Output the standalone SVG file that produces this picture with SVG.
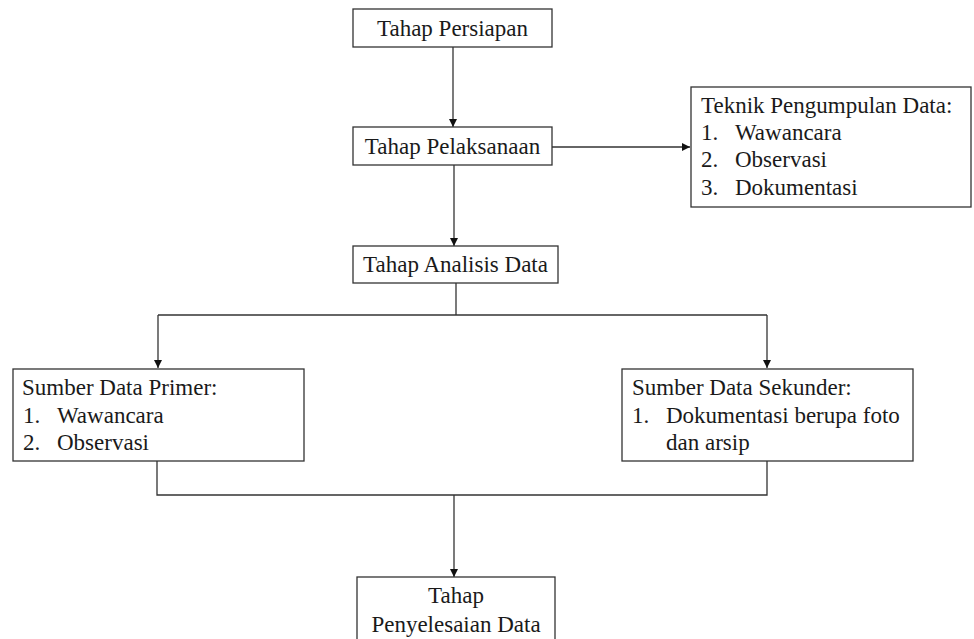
<svg xmlns="http://www.w3.org/2000/svg" width="974" height="639" viewBox="0 0 974 639">
<style>
.box{fill:#fff;stroke:#333;stroke-width:1.3}
.t{font-family:'Liberation Serif','Times New Roman','DejaVu Serif',serif;font-size:23px;fill:#1a1a1a}
.c{text-anchor:middle}
.ln{fill:none;stroke:#333;stroke-width:1.3}
</style>
<defs>
<marker id="ah" viewBox="0 0 10 10" refX="10" refY="5" markerWidth="8" markerHeight="8" markerUnits="userSpaceOnUse" orient="auto">
<path d="M0,0 L10,5 L0,10 z" fill="#111"/>
</marker>
</defs>
<rect width="974" height="639" fill="#fff"/>
<g id="connectors">
<path class="ln" d="M453,47 V127" marker-end="url(#ah)"/>
<path class="ln" d="M552,147 H690" marker-end="url(#ah)"/>
<path class="ln" d="M454,165 V246" marker-end="url(#ah)"/>
<path class="ln" d="M456,283 V315"/>
<path class="ln" d="M158,315 H767"/>
<path class="ln" d="M158,315 V368" marker-end="url(#ah)"/>
<path class="ln" d="M767,315 V368" marker-end="url(#ah)"/>
<path class="ln" d="M157,461 V495 H767 V461"/>
<path class="ln" d="M454,495 V577" marker-end="url(#ah)"/>
</g>
<g id="persiapan">
<rect class="box" x="353" y="9" width="199" height="38"/>
<text class="t c" x="452.5" y="36">Tahap Persiapan</text>
</g>
<g id="pelaksanaan">
<rect class="box" x="353" y="127" width="199" height="38"/>
<text class="t c" x="452.5" y="154">Tahap Pelaksanaan</text>
</g>
<g id="teknik">
<rect class="box" x="691" y="87" width="280" height="120"/>
<text class="t" x="701" y="113">Teknik Pengumpulan Data:</text>
<text class="t" x="701" y="140">1.</text><text class="t" x="735" y="140">Wawancara</text>
<text class="t" x="701" y="167">2.</text><text class="t" x="735" y="167">Observasi</text>
<text class="t" x="701" y="195">3.</text><text class="t" x="735" y="195">Dokumentasi</text>
</g>
<g id="analisis">
<rect class="box" x="353" y="246" width="205" height="37"/>
<text class="t c" x="455.5" y="272">Tahap Analisis Data</text>
</g>
<g id="primer">
<rect class="box" x="13" y="369" width="291" height="92"/>
<text class="t" x="22" y="395">Sumber Data Primer:</text>
<text class="t" x="23" y="423">1.</text><text class="t" x="57" y="423">Wawancara</text>
<text class="t" x="23" y="450">2.</text><text class="t" x="57" y="450">Observasi</text>
</g>
<g id="sekunder">
<rect class="box" x="622" y="369" width="291" height="92"/>
<text class="t" x="632" y="395">Sumber Data Sekunder:</text>
<text class="t" x="632" y="423">1.</text><text class="t" x="666" y="423">Dokumentasi berupa foto</text>
<text class="t" x="666" y="450">dan arsip</text>
</g>
<g id="penyelesaian">
<rect class="box" x="357" y="577" width="198" height="70"/>
<text class="t c" x="456" y="603">Tahap</text>
<text class="t c" x="456" y="632">Penyelesaian Data</text>
</g>
</svg>
